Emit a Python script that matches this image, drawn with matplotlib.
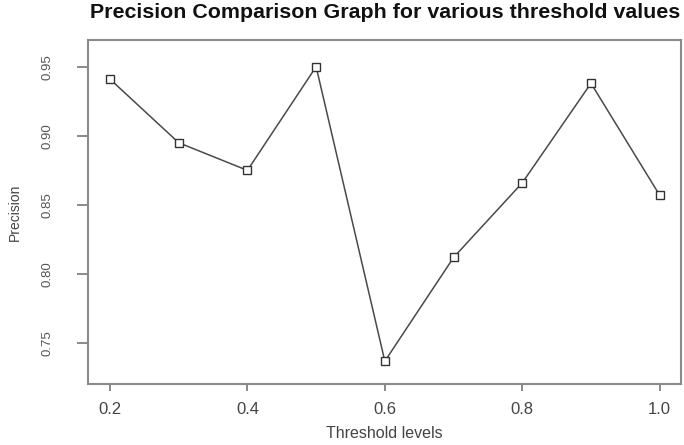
import matplotlib
matplotlib.use("Agg")
import matplotlib.pyplot as plt

thresholds = [0.2, 0.3, 0.4, 0.5, 0.6, 0.7, 0.8, 0.9, 1.0]
precision = [0.941, 0.895, 0.875, 0.950, 0.737, 0.812, 0.866, 0.938, 0.857]
xticks = [0.2, 0.4, 0.6, 0.8, 1.0]
xtick_labels = ["0.2", "0.4", "0.6", "0.8", "1.0"]
yticks = [0.75, 0.80, 0.85, 0.90, 0.95]
ytick_labels = ["0.75", "0.80", "0.85", "0.90", "0.95"]

plt.rcParams['font.family'] = ['Liberation Sans', 'DejaVu Sans']

W, H = 684, 445
fig = plt.figure(figsize=(W / 100, H / 100), dpi=100)
ax = fig.add_axes([88 / W, (H - 384) / H, (681 - 88) / W, (384 - 40) / H])

ax.plot(thresholds, precision, color='#4a4a4a', linewidth=1.1,
        marker='s', markersize=5.5, markerfacecolor='white',
        markeredgecolor='#333333', markeredgewidth=1.0)

ax.set_xlim(0.168, 1.031)
ax.set_ylim(0.7205, 0.9693)

ax.set_xticks(xticks)
ax.set_xticklabels(xtick_labels, fontsize=12, color='#444444')
ax.set_yticks(yticks)
ax.set_yticklabels(ytick_labels, fontsize=9.5, color='#555555', rotation=90, va='center')

ax.tick_params(axis='x', length=5, width=1.2, color='#777777', pad=8)
ax.tick_params(axis='y', length=8, width=1.2, color='#777777', pad=17)

for s in ax.spines.values():
    s.set_color('#8a8a8a')
    s.set_linewidth(1.5)

fig.text(15 / W, 1 - 212 / H, "Precision", rotation=90, fontsize=10,
         color='#444444', ha='center', va='center')
fig.text(384 / W, 1 - 433 / H, "Threshold levels", fontsize=11.5,
         color='#444444', ha='center', va='center')
fig.text(385 / W, 1 - 13 / H, "Precision Comparison Graph for various threshold values",
         fontsize=15.4, fontweight='bold', color='#111111', ha='center', va='center')

fig.savefig("out.png", dpi=100, facecolor='white')
